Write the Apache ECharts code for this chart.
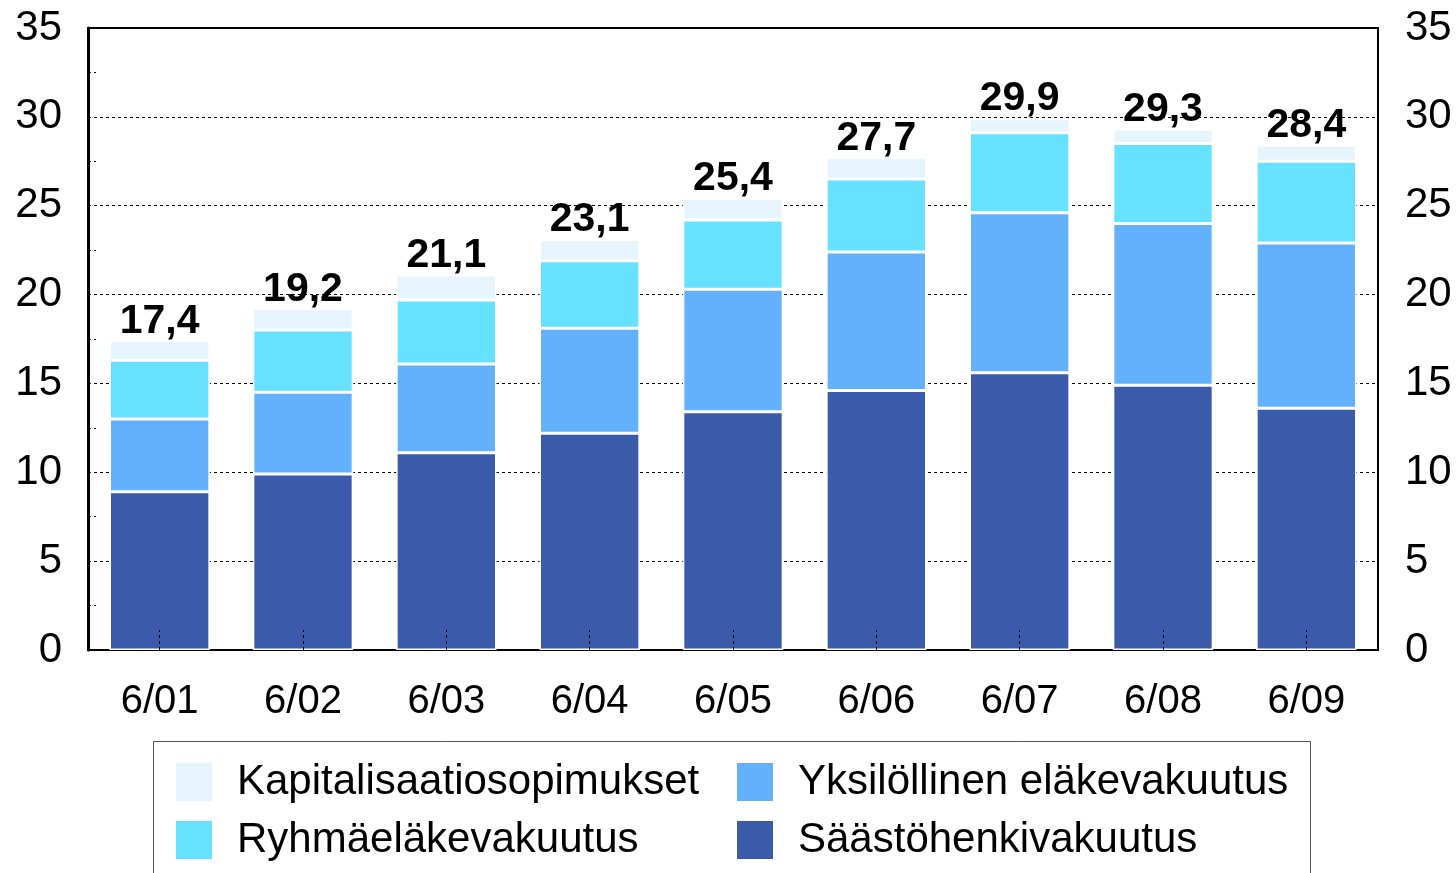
<!DOCTYPE html>
<html>
<head>
<meta charset="utf-8">
<style>
  html, body { margin: 0; padding: 0; background: #fff; }
  #chart { width: 1456px; height: 873px; }
</style>
<script src="https://cdn.jsdelivr.net/npm/echarts@6/dist/echarts.min.js"></script>
</head>
<body>
<div id="chart"></div>
<script>
// data
var categories = ["6/01", "6/02", "6/03", "6/04", "6/05", "6/06", "6/07", "6/08", "6/09"];
var saasto = [8.9, 9.9, 11.1, 12.2, 13.4, 14.6, 15.6, 14.9, 13.6];
var yksilollinen = [4.1, 4.6, 5.0, 5.9, 6.9, 7.8, 9.0, 9.1, 9.3];
var ryhma = [3.3, 3.5, 3.6, 3.8, 3.9, 4.1, 4.5, 4.5, 4.6];
var kapital = [1.1, 1.2, 1.4, 1.2, 1.2, 1.2, 0.8, 0.8, 0.9];
var totals = ["17,4", "19,2", "21,1", "23,1", "25,4", "27,7", "29,9", "29,3", "28,4"];

var font = "'Liberation Sans', Arial, sans-serif";
var chart = echarts.init(document.getElementById("chart"));

function barSeries(name, data, color) {
  return {
    name: name,
    type: "bar",
    stack: "total",
    data: data,
    barWidth: "70%",
    itemStyle: { color: color, borderColor: "#fff", borderWidth: 1.5 }
  };
}

var series = [
  barSeries("Säästöhenkivakuutus", saasto, "#3A5BA9"),
  barSeries("Yksilöllinen eläkevakuutus", yksilollinen, "#63B1FC"),
  barSeries("Ryhmäeläkevakuutus", ryhma, "#66E1FF"),
  barSeries("Kapitalisaatiosopimukset", kapital, "#E6F4FD")
];
// totals on top of each stack
series[3].label = {
  show: true,
  position: "top",
  distance: -1,
  formatter: function (p) { return totals[p.dataIndex]; },
  fontFamily: font,
  fontWeight: "bold",
  fontSize: 41,
  color: "#000"
};

var legendText = { fontFamily: font, fontSize: 42, color: "#000", padding: [0, 0, 0, 19] };

chart.setOption({
  animation: false,
  backgroundColor: "#fff",
  grid: {
    left: 88, right: 78, top: 28, bottom: 223,
    show: true, borderColor: "#000", borderWidth: 2, backgroundColor: "transparent"
  },
  legend: [
    {
      orient: "vertical", left: 169, top: 756, itemGap: 16,
      itemWidth: 38, itemHeight: 40, icon: "rect",
      data: ["Kapitalisaatiosopimukset", "Ryhmäeläkevakuutus"],
      textStyle: legendText
    },
    {
      orient: "vertical", left: 730, top: 756, itemGap: 16,
      itemWidth: 38, itemHeight: 40, icon: "rect",
      data: ["Yksilöllinen eläkevakuutus", "Säästöhenkivakuutus"],
      textStyle: legendText
    }
  ],
  graphic: [{
    type: "rect",
    shape: { x: 153.5, y: 741.5, width: 1157, height: 160 },
    style: { fill: "none", stroke: "#555", lineWidth: 1 },
    silent: true
  }],
  xAxis: {
    type: "category",
    data: categories,
    z: 5,
    axisLine: { show: false },
    axisTick: {
      show: true, inside: true, alignWithLabel: true, length: 20,
      lineStyle: { color: "#000", type: [3, 3], width: 1 }
    },
    axisLabel: { fontFamily: font, fontSize: 40, color: "#000", margin: 32 }
  },
  yAxis: [
    {
      type: "value", min: 0, max: 35, interval: 5,
      axisLine: { show: true, lineStyle: { color: "#000", width: 3 } },
      axisTick: { show: false, inside: true },
      minorTick: { show: true, splitNumber: 2, length: 8, lineStyle: { color: "#000", type: [3, 3], width: 1 } },
      splitLine: { show: true, lineStyle: { color: "#000", type: [3, 3], width: 1 } },
      axisLabel: { fontFamily: font, fontSize: 42, color: "#000", margin: 26, padding: [8, 0, 0, 0] }
    },
    {
      type: "value", min: 0, max: 35, interval: 5, position: "right",
      axisLine: { show: true, lineStyle: { color: "#000", width: 2 } },
      axisTick: { show: false },
      splitLine: { show: false },
      axisLabel: { fontFamily: font, fontSize: 42, color: "#000", margin: 27, padding: [8, 0, 0, 0] }
    }
  ],
  series: series
});
</script>
</body>
</html>
